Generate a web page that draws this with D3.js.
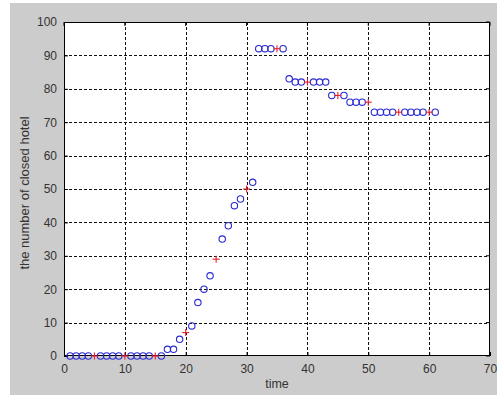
<!DOCTYPE html>
<html>
<head>
<meta charset="utf-8">
<script src="https://cdn.jsdelivr.net/npm/d3@7"></script>
<style>
  html, body { margin: 0; padding: 0; background: #ffffff; }
  svg { display: block; }
  text { font-family: "Liberation Sans", Arial, sans-serif; }
</style>
</head>
<body>
<svg id="chart" width="497" height="395"></svg>
<script>
// Blue circle observations
const circleTimes  = [1,2,3,4,6,7,8,9,11,12,13,14,16,17,18,19,21,22,23,24,26,27,28,29,31,32,33,34,36,37,38,39,41,42,43,44,46,47,48,49,51,52,53,54,56,57,58,59,61];
const circleValues = [0,0,0,0,0,0,0,0,0,0,0,0,0,2,2,5,9,16,20,24,35,39,45,47,52,92,92,92,92,83,82,82,82,82,82,78,78,76,76,76,73,73,73,73,73,73,73,73,73];
// Red plus observations
const plusTimes  = [5,10,15,20,25,30,35,40,45,50,55,60];
const plusValues = [0,0,0,7,29,50,92,82,78,76,73,73];
// Axis ticks
const xTicks = [0,10,20,30,40,50,60,70];
const yTicks = [0,10,20,30,40,50,60,70,80,90,100];
const xLabel = "time";
const yLabel = "the number of closed hotel";

const svg = d3.select("#chart");
const W = 497, H = 395;
const plot = {left: 64, right: 490, top: 22, bottom: 356};

// figure background
svg.append("rect").attr("x", 10).attr("y", 3).attr("width", W - 10).attr("height", H - 3).attr("fill", "#cccccc");

const x = d3.scaleLinear().domain([0, 70]).range([plot.left, plot.right]);
const y = d3.scaleLinear().domain([0, 100]).range([plot.bottom, plot.top]);

// plot area
svg.append("rect").attr("x", plot.left).attr("y", plot.top)
  .attr("width", plot.right - plot.left).attr("height", plot.bottom - plot.top)
  .attr("fill", "#ffffff");

// grid
const grid = svg.append("g").attr("stroke", "#111").attr("stroke-width", 1).attr("stroke-dasharray", "3,2");
grid.selectAll("line.vx").data(xTicks.filter(d => d > 0 && d < 70)).join("line")
  .attr("x1", d => Math.round(x(d)) + 0.5).attr("x2", d => Math.round(x(d)) + 0.5)
  .attr("y1", plot.top).attr("y2", plot.bottom);
grid.selectAll("line.hy").data(yTicks.filter(d => d > 0 && d < 100)).join("line")
  .attr("y1", d => Math.round(y(d)) + 0.5).attr("y2", d => Math.round(y(d)) + 0.5)
  .attr("x1", plot.left).attr("x2", plot.right);

// axes
const xAxis = d3.axisBottom(x).tickValues(xTicks).tickSize(-4).tickPadding(8).tickFormat(d3.format("d"));
const yAxis = d3.axisLeft(y).tickValues(yTicks).tickSize(-4).tickPadding(7).tickFormat(d3.format("d"));
const gx = svg.append("g").attr("transform", `translate(0,${plot.bottom})`).call(xAxis);
const gy = svg.append("g").attr("transform", `translate(${plot.left},0)`).call(yAxis);
[gx, gy].forEach(g => {
  g.select(".domain").remove();
  g.selectAll(".tick line").attr("stroke", "#000");
  g.selectAll(".tick text").attr("fill", "#333").style("font-size", "12px")
    .style("font-family", "'Liberation Sans', Arial, sans-serif");
});
// top/right ticks (MATLAB box)
svg.append("g").selectAll("line").data(xTicks).join("line")
  .attr("x1", d => x(d)).attr("x2", d => x(d)).attr("y1", plot.top).attr("y2", plot.top + 4).attr("stroke", "#000");
svg.append("g").selectAll("line").data(yTicks).join("line")
  .attr("y1", d => y(d)).attr("y2", d => y(d)).attr("x1", plot.right).attr("x2", plot.right - 4).attr("stroke", "#000");

// box
svg.append("rect").attr("x", plot.left + 0.5).attr("y", plot.top + 0.5)
  .attr("width", plot.right - plot.left - 1).attr("height", plot.bottom - plot.top - 1)
  .attr("fill", "none").attr("stroke", "#000").attr("stroke-width", 1);

// circles
svg.append("g").selectAll("circle").data(circleTimes.map((t, i) => [t, circleValues[i]])).join("circle")
  .attr("cx", d => x(d[0])).attr("cy", d => y(d[1])).attr("r", 3.2)
  .attr("fill", "none").attr("stroke", "#2a2ad0").attr("stroke-width", 1.1);

// plus markers
const pg = svg.append("g").attr("stroke", "#e8202a").attr("stroke-width", 1.1);
const pd = plusTimes.map((t, i) => [t, plusValues[i]]);
pg.selectAll("line.h").data(pd).join("line")
  .attr("x1", d => x(d[0]) - 3.5).attr("x2", d => x(d[0]) + 3.5)
  .attr("y1", d => y(d[1])).attr("y2", d => y(d[1]));
pg.selectAll("line.v").data(pd).join("line")
  .attr("x1", d => x(d[0])).attr("x2", d => x(d[0]))
  .attr("y1", d => y(d[1]) - 3.5).attr("y2", d => y(d[1]) + 3.5);

// labels
svg.append("text").attr("x", (plot.left + plot.right) / 2).attr("y", 388)
  .attr("text-anchor", "middle").attr("fill", "#333").style("font-size", "12.5px").text(xLabel);
svg.append("text").attr("transform", `translate(29,${(plot.top + plot.bottom) / 2 + 4}) rotate(-90)`)
  .attr("text-anchor", "middle").attr("fill", "#333").style("font-size", "13px").text(yLabel);
</script>
</body>
</html>
